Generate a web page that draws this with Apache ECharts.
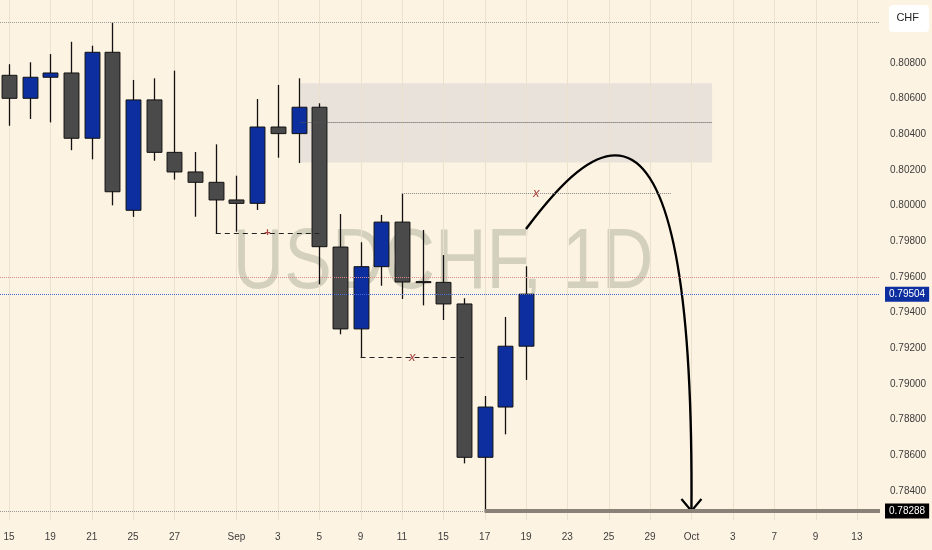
<!DOCTYPE html>
<html><head><meta charset="utf-8">
<script src="https://cdn.jsdelivr.net/npm/echarts@6/dist/echarts.min.js"></script>
<style>html,body{margin:0;padding:0;background:#fdf3e2}#c{width:932px;height:550px}</style>
</head><body><div id="c"></div>
<script>
// trading days (index 0 = Aug 15 2025)
const dates = ['Aug 15','Aug 18','Aug 19','Aug 20','Aug 21','Aug 22','Aug 25','Aug 26','Aug 27','Aug 28','Aug 29',
  'Sep 1','Sep 2','Sep 3','Sep 4','Sep 5','Sep 8','Sep 9','Sep 10','Sep 11','Sep 12','Sep 15','Sep 16','Sep 17','Sep 18','Sep 19',
  'Sep 22','Sep 23','Sep 24','Sep 25','Sep 26','Sep 29','Sep 30','Oct 1','Oct 2','Oct 3','Oct 6','Oct 7','Oct 8','Oct 9','Oct 10','Oct 13'];
const tickIdx = [0,2,4,6,8,11,13,15,17,19,21,23,25,27,29,31,33,35,37,39,41];
const tickLabels = ['15','19','21','25','27','Sep','3','5','9','11','15','17','19','23','25','29','Oct','3','7','9','13'];
const priceTicks = [0.784,0.786,0.788,0.790,0.792,0.794,0.796,0.798,0.800,0.802,0.804,0.806,0.808];

const opens  = [0.80731,0.80602,0.80720,0.80744,0.80378,0.80860,0.79974,0.80593,0.80299,0.80189,0.80131,0.80032,0.80013,0.80441,0.80404,0.80552,0.79768,0.79309,0.79658,0.79908,0.79574,0.79570,0.79449,0.78589,0.78871,0.79212];
const highs  = [0.80793,0.80804,0.80850,0.80919,0.80897,0.81028,0.80705,0.80714,0.80757,0.80301,0.80344,0.80168,0.80598,0.80677,0.80714,0.80574,0.79953,0.79795,0.79948,0.80067,0.79864,0.79723,0.79481,0.78933,0.79376,0.79660];
const lows   = [0.80448,0.80486,0.80467,0.80311,0.80260,0.80002,0.79937,0.80252,0.80146,0.79938,0.79845,0.79854,0.79976,0.80269,0.80239,0.79559,0.79279,0.79148,0.79551,0.79477,0.79441,0.79359,0.78555,0.78288,0.78718,0.79023];
const closes = [0.80602,0.80720,0.80744,0.80378,0.80860,0.80078,0.80593,0.80299,0.80189,0.80131,0.80032,0.80013,0.80441,0.80404,0.80552,0.79770,0.79309,0.79658,0.79908,0.79572,0.79572,0.79449,0.78589,0.78871,0.79212,0.79504];

const lastPrice = 0.79504;
const swingLow = 0.78288;
const swingHigh = 0.81028;
const roundLevel = 0.79600;
// zone (index range, price range) and its mid line
const zoneX = [14.1, 34.0];
const zoneY = [0.80242, 0.80686];
const zoneMid = 0.80465;
// liquidity lines [fromIdx, toIdx, price, marker]
const levelLines = [[10, 15, 0.79845, '+'], [17, 22, 0.79148, 'x'], [19, 32, 0.80067, 'x']];
// projected path: bezier anchors (index, price)
const arrowPath = [[25, 0.79869], [27.85, 0.80312], [33.17, 0.80985], [33, 0.78288]];

const xMin = -0.435, xMax = 42.118, yMin = 0.782376, yMax = 0.811532;

const candleData = opens.map((o, i) => [i, o, closes[i], lows[i], highs[i]]);

const chart = echarts.init(document.getElementById('c'), null, {renderer: 'canvas'});

const levelMarkLines = [];
const levelMarkPoints = [];
levelLines.forEach(([a, b, p, m], k) => {
  levelMarkLines.push([{coord: [a, p], lineStyle: k === 2 ? {type: 'dotted', color: '#8a8a8a', width: 1} : {type: [5, 4], color: '#222', width: 1.2}}, {coord: [b, p]}]);
  levelMarkPoints.push({coord: [(a + b) / 2, p], name: m,
    label: m === '+' ? {fontSize: 11, fontStyle: 'normal', fontWeight: 'bold'} : {}});
});

const option = {
  backgroundColor: '#fdf3e2',
  animation: false,
  grid: {left: 0, right: 52, top: 0, bottom: 30},
  xAxis: {
    type: 'value', min: xMin, max: xMax,
    axisLine: {show: false}, axisTick: {show: false}, splitLine: {show: false},
    axisLabel: {
      customValues: tickIdx, margin: 12, color: '#3c3c3c', fontSize: 10,
      fontFamily: 'Liberation Sans, Arial, sans-serif',
      formatter: v => tickLabels[tickIdx.indexOf(Math.round(v))] || ''
    }
  },
  yAxis: {
    type: 'value', position: 'right', min: yMin, max: yMax, scale: true,
    axisLine: {show: false}, axisTick: {show: false}, splitLine: {show: false},
    axisLabel: {
      customValues: priceTicks, margin: 10, color: '#3c3c3c', fontSize: 10,
      fontFamily: 'Liberation Sans, Arial, sans-serif',
      formatter: v => v.toFixed(5)
    }
  },
  graphic: [
    {type: 'text', x: 443, y: 265, scaleX: 0.84, z: 0, silent: true,
     style: {text: 'USDCHF, 1D', x: 0, y: 0, align: 'center', verticalAlign: 'middle', textAlign: 'center', textVerticalAlign: 'middle',
       font: '85px "Liberation Sans", Arial, sans-serif', fill: '#d4d0be'}},
    {type: 'rect', right: 3, top: 5, z: 100, shape: {width: 40, height: 27, r: 4}, style: {fill: '#ffffff'}},
    {type: 'text', right: 13, top: 12, z: 101, style: {text: 'CHF', font: '11px "Liberation Sans", Arial, sans-serif', fill: '#222'}}
  ],
  series: [
    { // vertical grid lines at labelled days
      type: 'custom', z: 1, silent: true, clip: true,
      data: tickIdx.map(i => [i]),
      renderItem: (params, api) => {
        const cs = params.coordSys;
        const x = Math.round(api.coord([api.value(0), yMin])[0]) + 0.5;
        return {type: 'line', shape: {x1: x, y1: cs.y, x2: x, y2: cs.y + cs.height}, style: {stroke: '#ece1cd', lineWidth: 1}};
      }
    },
    { // annotations under candles
      type: 'line', z: 2, data: [], silent: true,
      markArea: {silent: true, itemStyle: {color: '#e9e2da'}, label: {show: false},
        data: [[{coord: [zoneX[0], zoneY[1]]}, {coord: [zoneX[1], zoneY[0]]}]]},
      markLine: {
        silent: true, symbol: ['none', 'none'], animation: false, precision: 5,
        label: {show: false},
        data: [
          {yAxis: swingHigh, lineStyle: {type: 'dotted', color: '#9a9a9a', width: 1}},
          {yAxis: roundLevel, lineStyle: {type: 'dotted', color: '#d98a84', width: 1}},
          {yAxis: lastPrice, lineStyle: {type: 'dotted', color: '#4769d8', width: 1},
           label: {show: true, position: 'end', distance: 5, formatter: () => lastPrice.toFixed(5), backgroundColor: '#0d2e9f', color: '#fff', padding: [3, 4, 2, 4], fontSize: 10, fontFamily: 'Liberation Sans, Arial, sans-serif'}},
          [{coord: [zoneX[0], zoneMid], lineStyle: {type: 'dotted', color: '#555', width: 1}}, {coord: [zoneX[1], zoneMid]}],
          [{coord: [xMin, swingLow], lineStyle: {type: 'dotted', color: '#9a9a9a', width: 1}}, {coord: [23, swingLow]}],
          [{coord: [23, swingLow], lineStyle: {type: 'solid', color: '#8a8278', width: 4},
            label: {show: true, position: 'end', distance: 5, formatter: () => swingLow.toFixed(5), backgroundColor: '#000', color: '#fff', padding: [3, 4, 2, 4], fontSize: 10, fontFamily: 'Liberation Sans, Arial, sans-serif'}},
           {coord: [xMax, swingLow]}]
        ].concat(levelMarkLines)
      },
      markPoint: {
        silent: true, symbol: 'circle', symbolSize: 1, itemStyle: {color: 'rgba(0,0,0,0)'},
        label: {show: true, position: 'inside', formatter: p => p.name, color: '#a8433f', fontSize: 13, fontStyle: 'italic', fontFamily: 'Liberation Sans, Arial, sans-serif'},
        data: levelMarkPoints
      }
    },
    { // candles
      type: 'custom', z: 3, silent: true,
      data: candleData,
      renderItem: (params, api) => {
        const i = api.value(0), o = api.value(1), c = api.value(2), l = api.value(3), h = api.value(4);
        const po = api.coord([i, o]), pc = api.coord([i, c]), pl = api.coord([i, l]), ph = api.coord([i, h]);
        const w = api.size([1, 0])[0] * 0.72;
        const x = Math.round(po[0]) + 0.5;
        const top = Math.min(po[1], pc[1]);
        const hgt = Math.max(Math.abs(po[1] - pc[1]), 1);
        const up = c > o;
        return {type: 'group', children: [
          {type: 'line', shape: {x1: x, y1: ph[1], x2: x, y2: pl[1]}, style: {stroke: '#111', lineWidth: 1.3}},
          {type: 'rect', shape: {x: x - w / 2, y: top, width: w, height: hgt}, style: {fill: up ? '#0c2e9e' : '#4a4a4a', stroke: '#111', lineWidth: 1}}
        ]};
      }
    },
    { // projected path arrow
      type: 'custom', z: 4, silent: true, clip: false,
      data: [[0]],
      renderItem: (params, api) => {
        const p = arrowPath.map(q => api.coord(q));
        return {type: 'group', children: [
          {type: 'bezierCurve', shape: {x1: p[0][0], y1: p[0][1], cpx1: p[1][0], cpy1: p[1][1], cpx2: p[2][0], cpy2: p[2][1], x2: p[3][0], y2: p[3][1]},
           style: {stroke: '#000', lineWidth: 2.4, fill: null}},
          {type: 'polyline', shape: {points: [[p[3][0] - 10, p[3][1] - 12], [p[3][0], p[3][1]], [p[3][0] + 10, p[3][1] - 12]]},
           style: {stroke: '#000', lineWidth: 2.2, fill: null}}
        ]};
      }
    }
  ]
};
chart.setOption(option);
</script>
</body></html>
